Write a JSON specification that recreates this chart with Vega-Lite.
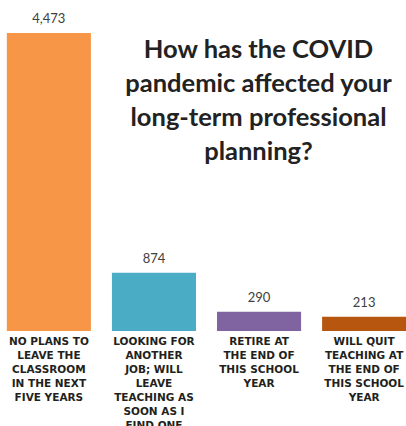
{
  "$schema": "https://vega.github.io/schema/vega-lite/v6.json",
  "width": 413,
  "height": 298,
  "autosize": {"type": "none"},
  "padding": {"top": 33, "left": 0, "right": 0, "bottom": 95},
  "background": "white",
  "config": {"view": {"stroke": null}},
  "title": {
    "text": ["How has the COVID", "pandemic affected your", "long-term professional", "planning?"],
    "anchor": "middle",
    "frame": "group",
    "dx": 52,
    "baseline": "top",
    "offset": 0,
    "dy": 152,
    "font": "Lato",
    "fontSize": 25.5,
    "fontWeight": "bold",
    "color": "#222222",
    "lineHeight": 34
  },
  "data": {
    "values": [
      {"label": "NO PLANS TO\nLEAVE THE\nCLASSROOM\nIN THE NEXT\nFIVE YEARS", "value": 4473},
      {"label": "LOOKING FOR\nANOTHER\nJOB; WILL\nLEAVE\nTEACHING AS\nSOON AS I\nFIND ONE", "value": 874},
      {"label": "RETIRE AT\nTHE END OF\nTHIS SCHOOL\nYEAR", "value": 290},
      {"label": "WILL QUIT\nTEACHING AT\nTHE END OF\nTHIS SCHOOL\nYEAR", "value": 213}
    ]
  },
  "encoding": {
    "x": {
      "field": "label",
      "type": "nominal",
      "sort": null,
      "scale": {"paddingInner": 0.2, "paddingOuter": 0.065},
      "axis": {
        "title": null,
        "domain": false,
        "ticks": false,
        "labelAngle": 0,
        "labelExpr": "split(datum.label, '\\n')",
        "labelFont": "DejaVu Sans",
        "labelFontWeight": "bold",
        "labelFontSize": 10.5,
        "labelColor": "#231f20",
        "labelLineHeight": 14,
        "labelPadding": 5,
        "labelBaseline": "top",
        "labelLimit": 0
      }
    },
    "y": {
      "field": "value",
      "type": "quantitative",
      "scale": {"nice": false, "zero": true},
      "axis": null
    }
  },
  "layer": [
    {
      "mark": {"type": "bar"},
      "encoding": {
        "color": {
          "field": "label",
          "type": "nominal",
          "sort": null,
          "scale": {"range": ["#F79646", "#4BACC6", "#8064A2", "#B7570F"]},
          "legend": null
        }
      }
    },
    {
      "mark": {"type": "text", "dy": -14, "font": "Lato", "fontSize": 13, "color": "#404040"},
      "encoding": {"text": {"field": "value", "type": "quantitative", "format": ","}}
    }
  ]
}
